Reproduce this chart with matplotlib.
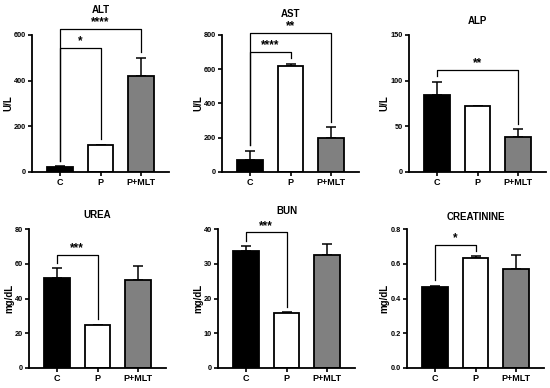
import matplotlib
matplotlib.use("Agg")
import matplotlib.pyplot as plt
import numpy as np

plt.rcParams['font.family'] = ['Liberation Sans', 'DejaVu Sans']
plt.rcParams['font.weight'] = 'bold'

groups = ["C", "P", "P+MLT"]
colors = ["#000000", "#ffffff", "#808080"]

titles = ["ALT", "AST", "ALP", "UREA", "BUN", "CREATININE"]
ylabels = ["U/L", "U/L", "U/L", "mg/dL", "mg/dL", "mg/dL"]

alt_mean = [20, 118, 420]
alt_err = [5, 2, 80]
ast_mean = [70, 620, 200]
ast_err = [55, 12, 60]
alp_mean = [84, 72, 38]
alp_err = [15, 0.6, 9]
urea_mean = [52, 24.5, 50.5]
urea_err = [5.5, 0.4, 8]
bun_mean = [33.7, 15.8, 32.6]
bun_err = [1.3, 0.2, 3.1]
crea_mean = [0.467, 0.635, 0.572]
crea_err = [0.006, 0.007, 0.08]

means = [alt_mean, ast_mean, alp_mean, urea_mean, bun_mean, crea_mean]
errs = [alt_err, ast_err, alp_err, urea_err, bun_err, crea_err]

yticks = [
    [0, 200, 400, 600],
    [0, 200, 400, 600, 800],
    [0, 50, 100, 150],
    [0, 20, 40, 60, 80],
    [0, 10, 20, 30, 40],
    [0.0, 0.2, 0.4, 0.6, 0.8],
]
ytick_labels = [
    ["0", "200", "400", "600"],
    ["0", "200", "400", "600", "800"],
    ["0", "50", "100", "150"],
    ["0", "20", "40", "60", "80"],
    ["0", "10", "20", "30", "40"],
    ["0.0", "0.2", "0.4", "0.6", "0.8"],
]

# significance brackets: (from, to, height, label)
alt_brackets = [(0, 1, 545, "*"), (0, 2, 625, "****")]
ast_brackets = [(0, 1, 703, "****"), (0, 2, 813, "**")]
alp_brackets = [(0, 2, 111.7, "**")]
urea_brackets = [(0, 1, 65.3, "***")]
bun_brackets = [(0, 1, 39.0, "***")]
crea_brackets = [(0, 1, 0.709, "*")]
brackets = [alt_brackets, ast_brackets, alp_brackets, urea_brackets, bun_brackets, crea_brackets]

W, H = 550, 388
fig = plt.figure(figsize=(5.5, 3.88), dpi=100)

# axes boxes in pixels: (left, right, top, bottom)
boxes = [
    (32, 169, 35, 172),
    (222, 359, 35, 172),
    (409, 546, 35, 172),
    (29, 166, 229, 368),
    (218, 355, 229, 368),
    (407, 544, 229, 368),
]
title_pads = [16, 13, 8, 8, 11, 6.5]

for k in range(6):
    l, r, t, b = boxes[k]
    ax = fig.add_axes([l / W, 1 - b / H, (r - l) / W, (b - t) / H])
    x = np.arange(len(groups))
    m = np.array(means[k])
    e = np.array(errs[k])
    ax.bar(x, m, width=0.64, color=colors, edgecolor="black", linewidth=1.3, zorder=2)
    ax.errorbar(x, m, yerr=[np.zeros_like(e), e], fmt="none", ecolor="black",
                elinewidth=1.1, capsize=3.5, capthick=1.1, zorder=1)
    ymax = yticks[k][-1]
    ax.set_ylim(0, ymax)
    ax.set_xlim(-0.69, 2.69)
    ax.set_yticks(yticks[k])
    ax.set_yticklabels(ytick_labels[k], fontsize=5.3, fontweight="bold")
    ax.set_xticks(x)
    ax.set_xticklabels(groups, fontsize=6.5, fontweight="bold")
    ax.tick_params(axis="both", length=3, width=1.2, pad=1.5)
    for s in ["top", "right"]:
        ax.spines[s].set_visible(False)
    for s in ["left", "bottom"]:
        ax.spines[s].set_linewidth(1.3)
    ax.set_ylabel(ylabels[k], fontsize=7, fontweight="bold", labelpad=0.5)
    ax.set_title(titles[k], fontsize=7, fontweight="bold", pad=title_pads[k])

    gap = 0.04 * ymax
    for (i, j, yb, lab) in brackets[k]:
        yi = m[i] + e[i] + gap
        yj = m[j] + e[j] + gap
        ax.plot([x[i], x[i], x[j], x[j]], [yi, yb, yb, yj], color="black",
                linewidth=0.9, clip_on=False, zorder=3)
        ax.annotate(lab, xy=((x[i] + x[j]) / 2, yb), xytext=(0, 0.5),
                    textcoords="offset points", ha="center", va="bottom",
                    fontsize=8.5, fontweight="bold", annotation_clip=False)

fig.savefig("out.png", dpi=100)
